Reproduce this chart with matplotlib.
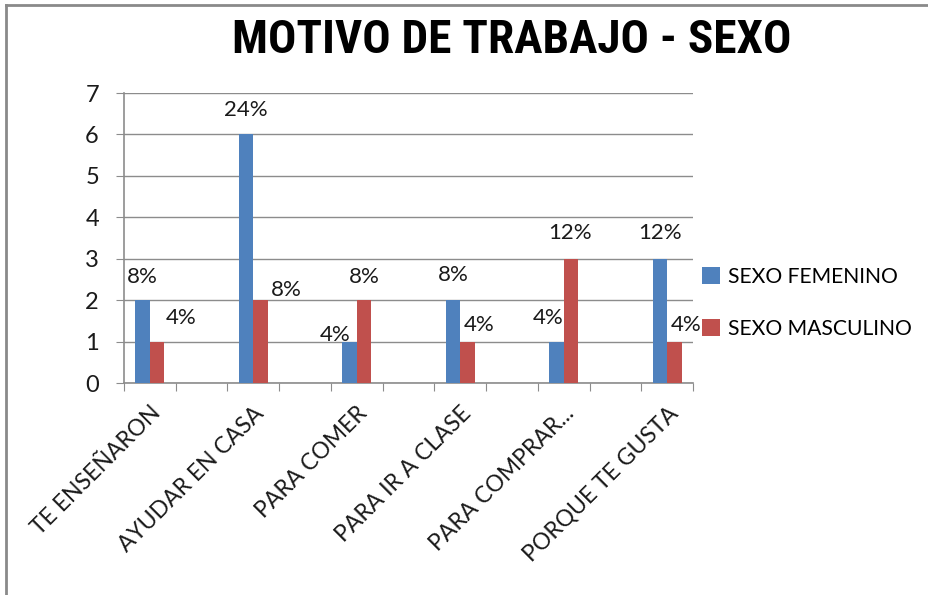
import numpy as np
import matplotlib
matplotlib.use("Agg")
import matplotlib.pyplot as plt
from matplotlib.lines import Line2D

categories = ["TE ENSEÑARON", "AYUDAR EN CASA", "PARA COMER",
              "PARA IR A CLASE", "PARA COMPRAR...", "PORQUE TE GUSTA"]
femenino = [2, 6, 1, 2, 1, 3]
masculino = [1, 2, 2, 1, 3, 1]
fem_labels = ["8%", "24%", "4%", "8%", "4%", "12%"]
masc_labels = ["4%", "8%", "8%", "4%", "12%", "4%"]
series_names = ["SEXO FEMENINO", "SEXO MASCULINO"]
yticks = [0, 1, 2, 3, 4, 5, 6, 7]

# label offsets in pixels (dx, dy above bar top) – layout only
fem_off = [(0, 23), (0, 24), (-14, 7), (0, 25), (-8, 24), (0, 26)]
masc_off = [(24, 24), (26, 10), (0, 23), (12, 17), (-1, 26), (12, 17)]

BLUE = "#4F81BD"
RED = "#C0504D"
GRID = "#8C8C8C"
FONT = ["Lato", "DejaVu Sans"]
plt.rcParams["font.family"] = FONT

W, H = 929, 595
fig = plt.figure(figsize=(W / 100, H / 100), dpi=100)
ax = fig.add_axes([124 / W, 1 - 383 / H, (693 - 124) / W, (383 - 93) / H])

nslots = 2 * len(categories) - 1
centers = np.arange(len(categories)) * 2 + 0.5
bw = 0.28
b1 = ax.bar(centers - bw / 2, femenino, bw, color=BLUE, label=series_names[0], zorder=3)
b2 = ax.bar(centers + bw / 2, masculino, bw, color=RED, label=series_names[1], zorder=3)

ax.set_xlim(0, nslots)
ax.set_ylim(0, 7)
ax.set_yticks(yticks)
ax.yaxis.grid(True, color=GRID, linewidth=1.0, zorder=0)
ax.set_axisbelow(True)
ax.set_xticks(np.arange(nslots + 1))
ax.set_xticklabels([])
ax.set_xticks(centers, minor=True)
ax.set_xticklabels(categories, minor=True, rotation=45, ha="right", va="top",
                   rotation_mode="anchor", fontsize=16.5, color="#1a1a1a")
ax.tick_params(axis="x", which="major", length=6, color=GRID, direction="out")
ax.tick_params(axis="x", which="minor", length=0, pad=14)
ax.tick_params(axis="y", length=6, color=GRID, labelsize=17, pad=12, labelcolor="#1a1a1a")
for s in ["top", "right"]:
    ax.spines[s].set_visible(False)
for s in ["left", "bottom"]:
    ax.spines[s].set_color(GRID)
    ax.spines[s].set_linewidth(1.2)

px = 0.72
for bars, labels, offs in [(b1, fem_labels, fem_off), (b2, masc_labels, masc_off)]:
    for rect, lab, (dx, dy) in zip(bars, labels, offs):
        ax.annotate(lab, (rect.get_x() + rect.get_width() / 2, rect.get_height()),
                    xytext=(dx * px, dy * px), textcoords="offset points",
                    ha="center", va="center", fontsize=16, color="#1a1a1a",
                    annotation_clip=False)

leg = fig.legend(handles=[b1, b2], labels=series_names, loc="center left",
                 bbox_to_anchor=(694 / W, 1 - 303 / H), frameon=False,
                 fontsize=15.2, handlelength=0.85, handleheight=0.85,
                 handletextpad=0.35, labelspacing=1.5, borderaxespad=0)

fig.text(512 / W, 1 - 40 / H, "MOTIVO DE TRABAJO - SEXO", ha="center", va="center",
         fontsize=34, fontweight="bold", color="black",
         family=["Roboto Condensed", "Lato", "DejaVu Sans"])

# outer chart border (partially visible)
fig.add_artist(Line2D([6 / W, 1], [1 - 5 / H, 1 - 5 / H], transform=fig.transFigure,
                      color="#8a8a8a", linewidth=2))
fig.add_artist(Line2D([6 / W, 6 / W], [0, 1 - 5 / H], transform=fig.transFigure,
                      color="#8a8a8a", linewidth=2))

fig.savefig("out.png", dpi=100)
